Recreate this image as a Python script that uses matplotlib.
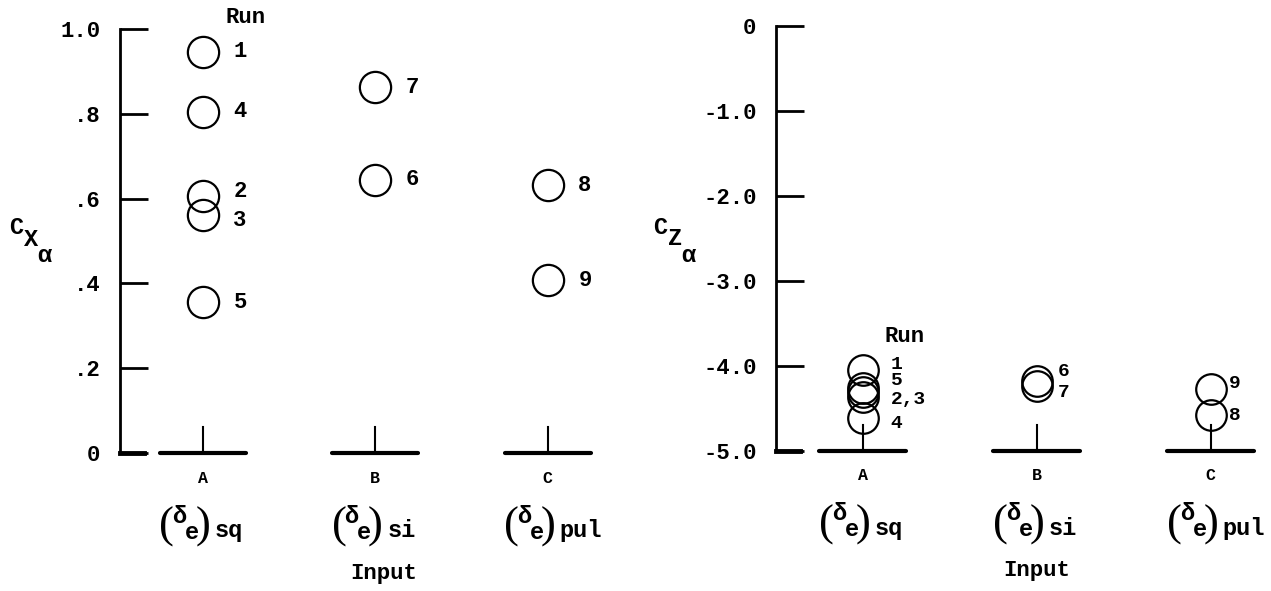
import numpy as np
import matplotlib
matplotlib.use("Agg")
from matplotlib import pyplot as plt

plt.rcParams['font.family'] = ['Liberation Mono', 'DejaVu Sans']
plt.rcParams['font.weight'] = 'bold'
plt.rcParams['mathtext.fontset'] = 'custom'
plt.rcParams['mathtext.rm'] = 'Liberation Mono:bold'
plt.rcParams['mathtext.it'] = 'Liberation Mono:bold'

# data
inputs = ['A', 'B', 'C']
input_subs = ['sq', 'si', 'pul']

runs_A = [1, 2, 3, 4, 5]
runs_B = [6, 7]
runs_C = [8, 9]

cx_A = [0.946, 0.607, 0.562, 0.805, 0.355]
cx_B = [0.645, 0.863]
cx_C = [0.631, 0.407]

cz_A = [-4.05, -4.31, -4.37, -4.61, -4.26]
cz_B = [-4.18, -4.23]
cz_C = [-4.58, -4.27]

runs = [runs_A, runs_B, runs_C]
cx = [cx_A, cx_B, cx_C]
cz = [cz_A, cz_B, cz_C]

# run labels of the right panel are stacked beside each group
cz_labels = [['1', '5', '2,3', '4'], ['6', '7'], ['9', '8']]
cz_label_y = [[-3.98, -4.17, -4.40, -4.68], [-4.06, -4.31], [-4.21, -4.58]]

fig = plt.figure(figsize=(12.71, 5.91), dpi=100)
ax1 = fig.add_axes([0.0944, 0.2335, 0.384, 0.7174])
ax2 = fig.add_axes([0.6105, 0.2369, 0.3832, 0.7191])

fs = 16
xpos = np.arange(1, 4)
px = 0.72  # points per pixel


def put(ax, x, y, s, dx, dy, **kw):
    # text placed at a pixel offset from a data point
    ax.annotate(s, (x, y), xytext=(dx * px, dy * px), textcoords='offset points',
                annotation_clip=False, **kw)


def input_name(ax, x, lo, sub):
    put(ax, x, lo, '(', -36, -74, ha='center', va='center', fontsize=32,
        fontweight='normal', family='Liberation Serif')
    put(ax, x, lo, ')', 0, -74, ha='center', va='center', fontsize=32,
        fontweight='normal', family='Liberation Serif')
    put(ax, x, lo, 'δ', -24, -63, ha='center', va='center', fontsize=17)
    put(ax, x, lo, 'e', -11, -79, ha='center', va='center', fontsize=17)
    put(ax, x, lo, sub, 12, -84, ha='left', va='baseline', fontsize=17)


def setup(ax, lo, hi, xlim, ticks, ticklabels, input_dx):
    ax.set_xlim(*xlim)
    ax.set_ylim(lo, hi)
    for s in ['top', 'right', 'bottom']:
        ax.spines[s].set_visible(False)
    ax.spines['left'].set_linewidth(2)
    ax.set_yticks(ticks)
    ax.set_yticklabels(ticklabels, fontsize=fs)
    ax.tick_params(axis='y', direction='in', length=20, width=2, pad=14)
    ax.set_xticks([])
    # base segments with a short riser for each input
    stem = (hi - lo) * 0.062
    for i, x in enumerate(xpos):
        ax.plot([x - 0.25, x + 0.25], [lo, lo], color='black', lw=3, clip_on=False,
                solid_capstyle='round')
        ax.plot([x, x], [lo, lo + stem], color='black', lw=1.5, clip_on=False)
        put(ax, x, lo, inputs[i], 0, -25, ha='center', va='center', fontsize=12)
        input_name(ax, x, lo, input_subs[i])
    ax.plot([xlim[0], xlim[0] + 0.14], [lo, lo], color='black', lw=3.5, clip_on=False)
    put(ax, 2, lo, 'Input', input_dx, -120, ha='center', va='center', fontsize=fs)


setup(ax1, 0, 1.0, (0.519, 3.35), [0, 0.2, 0.4, 0.6, 0.8, 1.0],
      ['0', '.2', '.4', '.6', '.8', '1.0'], 8)
setup(ax2, -5.0, 0, (0.5, 3.3), [-5, -4, -3, -2, -1, 0],
      ['-5.0', '-4.0', '-3.0', '-2.0', '-1.0', '0'], 0)


def ylabel(x0, y0, sub):
    # C with a subscript letter and an alpha below it, in pixel positions
    W, H = 1271, 591
    fig.text(x0 / W, 1 - y0 / H, 'C', fontsize=17, ha='center', va='center')
    fig.text((x0 + 15) / W, 1 - (y0 + 12) / H, sub, fontsize=17, ha='center', va='center')
    fig.text((x0 + 29) / W, 1 - (y0 + 28) / H, r'$\alpha$', fontsize=17,
             ha='center', va='center')


ylabel(16, 228, 'X')
ylabel(660, 227, 'Z')

# left panel: one label per circle
left_dy = {1: 0, 2: 3, 3: -4, 4: 0, 5: 0, 6: 0, 7: 0, 8: 0, 9: 0}
for i, x in enumerate(xpos):
    ax1.plot([x] * len(cx[i]), cx[i], 'o', ms=22.5, mfc='none', mec='black', mew=1.6,
             clip_on=False)
    for r, v in zip(runs[i], cx[i]):
        ax1.annotate(str(r), (x, v), xytext=(22, left_dy[r]), textcoords='offset points',
                     ha='left', va='center', fontsize=fs)
ax1.annotate('Run', (1, cx_A[0]), xytext=(31, 25), textcoords='offset points',
             ha='center', va='center', fontsize=fs)

# right panel: stacked labels
right_dx = [20, 15, 13]
for i, x in enumerate(xpos):
    ax2.plot([x] * len(cz[i]), cz[i], 'o', ms=22, mfc='none', mec='black', mew=1.6,
             clip_on=False)
    for t, yl in zip(cz_labels[i], cz_label_y[i]):
        ax2.annotate(t, (x, yl), xytext=(right_dx[i], 0), textcoords='offset points',
                     ha='left', va='center', fontsize=fs - 2)
ax2.annotate('Run', (1, cz_A[0]), xytext=(30, 24), textcoords='offset points',
             ha='center', va='center', fontsize=fs)

plt.savefig('out.png', dpi=100)
